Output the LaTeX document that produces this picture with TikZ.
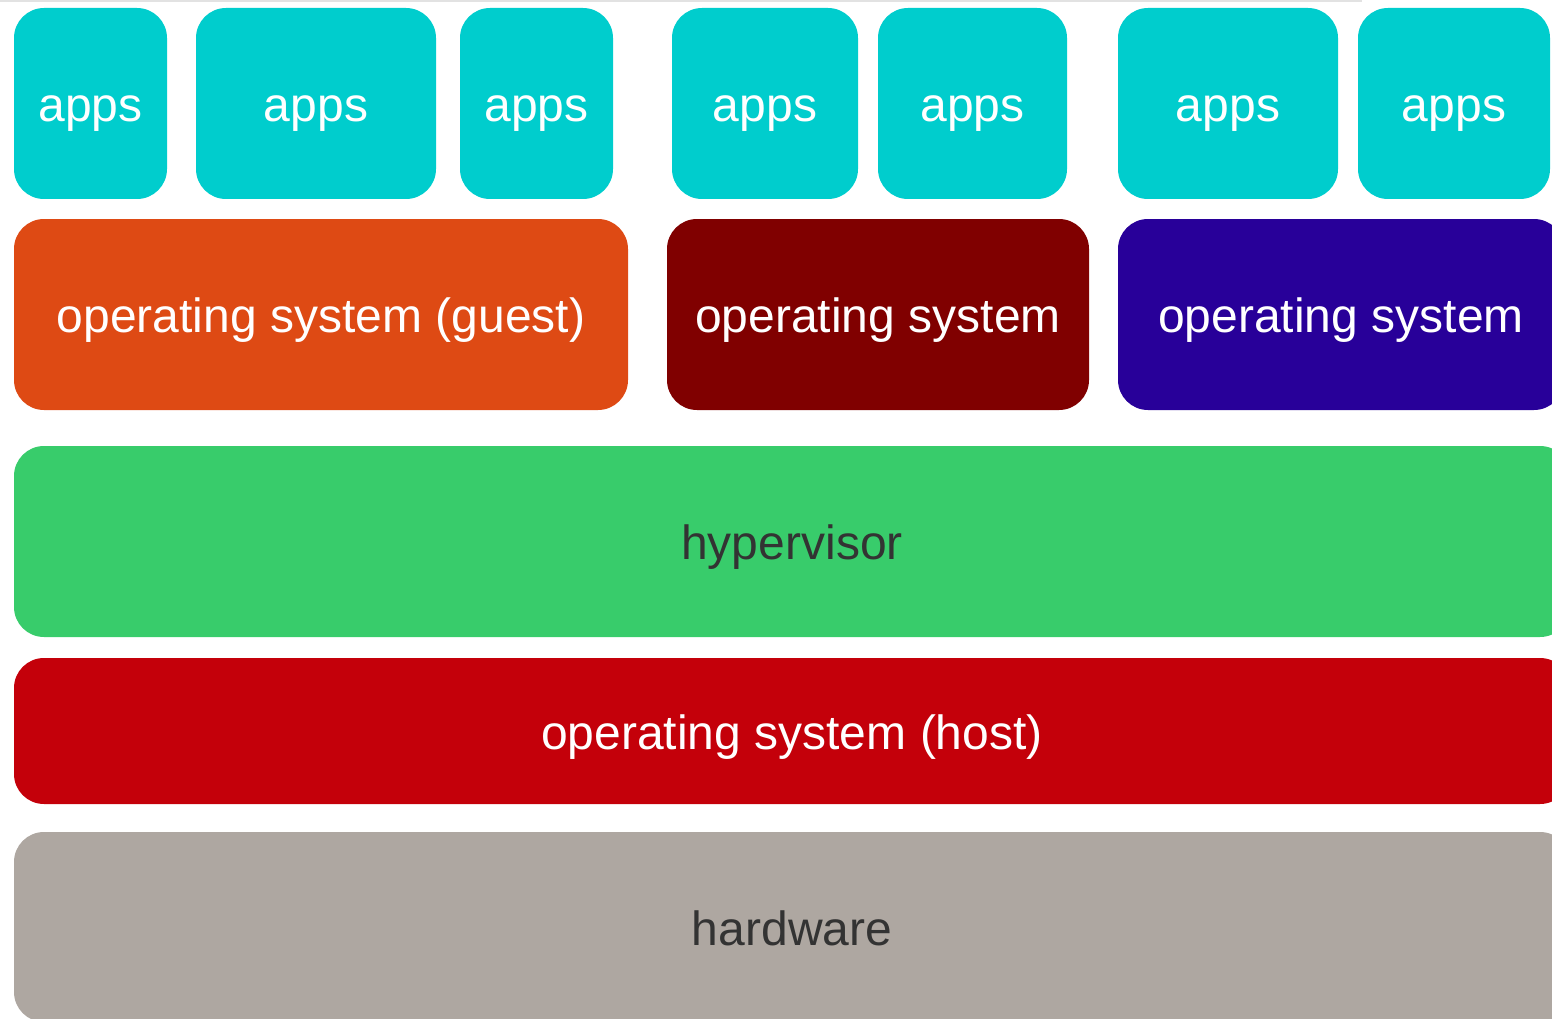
\documentclass[tikz,border=0pt]{standalone}
\usepackage{fontspec}
\setmainfont{Liberation Sans}
\definecolor{appc}{HTML}{00CDCD}
\definecolor{guestc}{HTML}{DE4A14}
\definecolor{maroonc}{HTML}{800000}
\definecolor{indigoc}{HTML}{280099}
\definecolor{hyperc}{HTML}{38CC6B}
\definecolor{hostc}{HTML}{C4000A}
\definecolor{hwc}{HTML}{AEA7A1}
\definecolor{darktext}{HTML}{333333}
\definecolor{topline}{HTML}{E2E2E2}
\begin{document}
\begin{tikzpicture}[x=1pt,y=-1pt,
  layerbox/.style={rounded corners=30pt, inner sep=0pt, outer sep=0pt,
    text height=36pt, text depth=0pt, align=center,
    font=\fontsize{48}{58}\selectfont},
  appbox/.style={layerbox, fill=appc, text=white, minimum height=191pt}]
\useasboundingbox (0,0) rectangle (1552,1019);
\clip (0,0) rectangle (1552,1019);
\fill[topline] (0,0) rectangle (1362,2.5);
% apps row (y 8..199)
\node[appbox, minimum width=153pt] (app1) at (90.5,103.5) {apps};
\node[appbox, minimum width=240pt] (app2) at (316,103.5) {apps};
\node[appbox, minimum width=153pt] (app3) at (536.5,103.5) {apps};
\node[appbox, minimum width=186pt] (app4) at (765,103.5) {apps};
\node[appbox, minimum width=189pt] (app5) at (972.5,103.5) {apps};
\node[appbox, minimum width=220pt] (app6) at (1228,103.5) {apps};
\node[appbox, minimum width=192pt] (app7) at (1454,103.5) {apps};
% OS row (y 219..410)
\node[layerbox, fill=guestc, text=white, minimum width=614pt, minimum height=191pt] (osguest) at (321,314.5) {operating system (guest)};
\node[layerbox, fill=maroonc, text=white, minimum width=422pt, minimum height=191pt] (os2) at (878,314.5) {operating system};
\node[layerbox, fill=indigoc, text=white, minimum width=446pt, minimum height=191pt] (os3) at (1341,314.5) {operating system};
% hypervisor (y 446..637)
\node[layerbox, fill=hyperc, text=darktext, minimum width=1556pt, minimum height=191pt] (hyper) at (792,541.5) {hypervisor};
% host (y 658..804)
\node[layerbox, fill=hostc, text=white, minimum width=1556pt, minimum height=146pt] (host) at (792,731) {operating system (host)};
% hardware (y 832..1022)
\node[layerbox, fill=hwc, text=darktext, minimum width=1556pt, minimum height=190pt] (hw) at (792,927) {hardware};
\end{tikzpicture}
\end{document}
